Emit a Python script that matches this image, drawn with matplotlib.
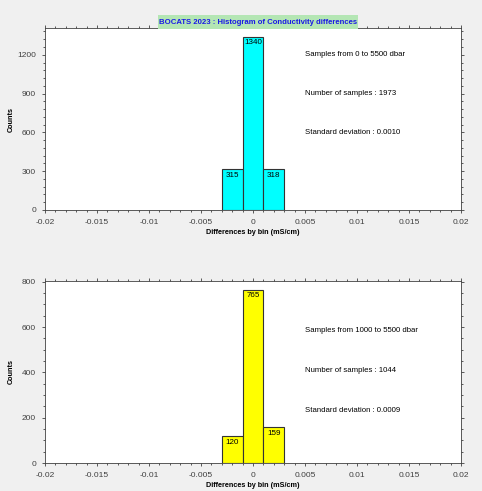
import numpy as np
import matplotlib.pyplot as plt
from matplotlib.patches import Rectangle
from matplotlib.ticker import MultipleLocator

plt.rcParams["font.family"] = ["Liberation Sans", "DejaVu Sans"]

bin_centers = [-0.002, 0.0, 0.002]
bin_width = 0.002
counts_all = [315, 1340, 318]
counts_deep = [120, 765, 159]
title = "BOCATS 2023 : Histogram of Conductivity differences"
info_all = ["Samples from 0 to 5500 dbar", "Number of samples : 1973", "Standard deviation : 0.0010"]
info_deep = ["Samples from 1000 to 5500 dbar", "Number of samples : 1044", "Standard deviation : 0.0009"]


def draw_hist(ax, counts, color, ystep, yminor, info, info_y):
    bars = ax.bar(bin_centers, counts, width=bin_width, color=color,
                  edgecolor="#333333", linewidth=0.8)
    for b, c in zip(bars, counts):
        ax.annotate(str(c), (b.get_x() + b.get_width() / 2, c), xytext=(0, -2),
                    textcoords="offset points", ha="center", va="top", fontsize=5.8)
    ax.set_xlim(-0.02, 0.02)
    ax.set_ylim(0, max(counts) * 1.05)
    ax.xaxis.set_major_locator(MultipleLocator(0.005))
    ax.xaxis.set_minor_locator(MultipleLocator(0.001))
    ax.yaxis.set_major_locator(MultipleLocator(ystep))
    ax.yaxis.set_minor_locator(MultipleLocator(yminor))
    ax.xaxis.set_major_formatter(lambda v, p: "0" if abs(v) < 1e-9 else f"{v:g}")
    ax.tick_params(which="both", direction="out", top=True, right=True,
                   labelsize=6, labelcolor="#404040", color="#404040", width=0.6, pad=4)
    ax.tick_params(which="major", length=2.5)
    ax.tick_params(which="minor", length=1.5)
    for s in ax.spines.values():
        s.set_linewidth(0.6)
        s.set_color("#404040")
    ax.set_xlabel("Differences by bin (mS/cm)", fontsize=5.2, fontweight="bold")
    ax.set_ylabel("Counts", fontsize=5.2, fontweight="bold")
    ax.xaxis.set_label_coords(0.5, -0.105)
    ax.yaxis.set_label_coords(-0.072, 0.5)
    for t, y in zip(info, info_y):
        ax.text(0.005, y, t, fontsize=5.6, va="center", ha="left")


fig = plt.figure(figsize=(4.82, 4.91), dpi=100, facecolor="#f0f0f0")
ax1 = fig.add_axes([45 / 482, 1 - 210 / 491, 416 / 482, 182 / 491])
ax2 = fig.add_axes([45 / 482, 1 - 463 / 491, 416 / 482, 182 / 491])

draw_hist(ax1, counts_all, "#00ffff", 300, 60, info_all, [1200, 900, 600])
draw_hist(ax2, counts_deep, "#ffff00", 200, 50, info_deep, [585, 408, 232])

fig.patches.append(Rectangle((158 / 482, 1 - 29 / 491), 200 / 482, 14 / 491,
                             transform=fig.transFigure, facecolor="#b4e6b4",
                             edgecolor="none", zorder=5))
fig.text(258 / 482, 1 - 22 / 491, title, ha="center", va="center", fontsize=5.6,
         fontweight="bold", color="#1a1ae6", zorder=6)

fig.savefig("out.png", dpi=100, facecolor=fig.get_facecolor())
